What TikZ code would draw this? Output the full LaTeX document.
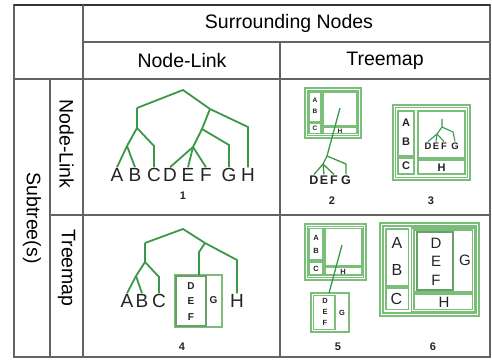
\documentclass[tikz,border=0pt]{standalone}
\usepackage{fontspec}
\setmainfont{Liberation Sans}
\usetikzlibrary{positioning}

\definecolor{branchgreen}{RGB}{58,152,72}
\definecolor{mapgreen}{RGB}{122,190,122}
\definecolor{rulegray}{RGB}{100,100,100}
\definecolor{inkgray}{RGB}{35,35,35}

\begin{document}
\begin{tikzpicture}[x=1pt,y=-1pt,
  rule/.style={draw=rulegray, line width=1.2pt},
  branch/.style={draw=branchgreen, line width=1.8pt},
  tmap/.style={draw=mapgreen, line width=1.2pt},
  tmapthick/.style={draw=mapgreen!85!black, line width=2pt},
  head/.style={inner sep=0pt, font=\fontsize{19.5}{22}\selectfont},
  leaf/.style={inner sep=1pt, text=inkgray, font=\fontsize{19}{21}\selectfont},
  cellbig/.style={inner sep=0pt, text=inkgray, font=\fontsize{15}{17}\selectfont},
  cellmid/.style={inner sep=1pt, text=inkgray, font=\bfseries\fontsize{9.5}{11}\selectfont},
  cellsmall/.style={inner sep=0pt, text=inkgray, font=\bfseries\fontsize{6.5}{8}\selectfont},
  tag/.style={inner sep=0pt, text=inkgray, font=\bfseries\fontsize{11}{13}\selectfont}]
\useasboundingbox (0,0) rectangle (492,363);

% table
\draw[rule] (14,5) rectangle (490,357);
\draw[rule, draw=black!80, line width=1.6pt] (14,5) -- (490,5);
\draw[rule] (83,5) -- (83,357);
\draw[rule] (83,42) -- (490,42);
\draw[rule] (14,79) -- (490,79);
\draw[rule] (50,79) -- (50,357);
\draw[rule] (280,42) -- (280,357);
\draw[rule] (50,215) -- (490,215);

\node[head] (surr) at (289,23.5) {Surrounding Nodes};
\node[head] (colnl) at (182,61) {Node-Link};
\node[head] (coltm) at (385,61) {Treemap};
\node[head, rotate=-90] (sub) at (32,218) {Subtree(s)};
\node[head, rotate=-90] (rownl) at (66.5,144) {Node-Link};
\node[head, rotate=-90] (rowtm) at (66.5,268) {Treemap};

% 1: node-link in node-link
\node[leaf] (A1) at (117,175) {A};
\node[leaf] (B1) at (135,175) {B};
\node[leaf] (C1) at (154,175) {C};
\node[leaf] (D1) at (170,175) {D};
\node[leaf] (E1) at (188,175) {E};
\node[leaf] (F1) at (206,175) {F};
\node[leaf] (G1) at (229,175) {G};
\node[leaf] (H1) at (248,175) {H};
\coordinate (r1) at (183,90);
\coordinate (l1) at (137,108);
\coordinate (lm1) at (137,128);
\coordinate (ab1) at (127,146);
\coordinate (c1) at (154,146);
\coordinate (rt1) at (210,109);
\coordinate (h1) at (248,127);
\coordinate (fg1) at (202,129);
\coordinate (g1) at (229,145);
\coordinate (def1) at (193,147);
\draw[branch] (l1) -- (r1) -- (rt1);
\draw[branch] (l1) -- (lm1) -- (ab1) -- (A1.north);
\draw[branch] (ab1) -- (B1.north);
\draw[branch] (lm1) -- (c1) -- (C1.north);
\draw[branch] (rt1) -- (h1) -- (H1.north);
\draw[branch] (rt1) -- (fg1) -- (def1) -- (D1.north);
\draw[branch] (def1) -- (E1.north);
\draw[branch] (def1) -- (F1.north);
\draw[branch] (fg1) -- (g1) -- (G1.north);
\node[tag] (n1) at (183,196) {1};

% 2: node-link subtree hung from a treemap
\draw[tmap] (305,88) rectangle (361,138);
\draw[tmap] (307.5,90.5) rectangle (358.5,135.5);
\draw[tmap] (309,92) rectangle (321,122);
\draw[tmap] (309,123.5) rectangle (321,133.5);
\draw[tmap] (323,92) rectangle (357,126);
\draw[tmap] (323,127.5) rectangle (357,133.5);
\node[cellsmall] (A2) at (315,100) {A};
\node[cellsmall] (B2) at (315,111) {B};
\node[cellsmall] (C2) at (315,128.5) {C};
\node[cellsmall] (H2) at (340,131) {H};
\node[cellmid, font=\bfseries\fontsize{12.5}{14}\selectfont] (D2) at (314,180) {D};
\node[cellmid, font=\bfseries\fontsize{12.5}{14}\selectfont] (E2) at (324,180) {E};
\node[cellmid, font=\bfseries\fontsize{12.5}{14}\selectfont] (F2) at (334,180) {F};
\node[cellmid, font=\bfseries\fontsize{12.5}{14}\selectfont] (G2) at (346,180) {G};
\coordinate (r2) at (340,108);
\coordinate (y2) at (327,156);
\coordinate (x2) at (323,164);
\coordinate (g2) at (346,164);
\draw[branch, line width=1.3pt] (r2) -- (y2) -- (x2) -- (D2.north);
\draw[branch, line width=1.3pt] (x2) -- (E2.north);
\draw[branch, line width=1.3pt] (x2) -- (F2.north);
\draw[branch, line width=1.3pt] (y2) -- (g2) -- (G2.north);
\node[tag] (n2) at (332,201) {2};

% 3: node-link subtree inside a treemap
\draw[tmap] (393,105) rectangle (470,180);
\draw[tmap] (395.5,107.5) rectangle (467.5,177.5);
\draw[tmap] (398,111) rectangle (414,156);
\draw[tmap] (398,158) rectangle (414,174);
\draw[tmap] (418,111) rectangle (465,158);
\draw[tmap] (418,160) rectangle (465,174);
\node[cellmid, font=\bfseries\fontsize{11}{13}\selectfont] (A3) at (406,123) {A};
\node[cellmid, font=\bfseries\fontsize{11}{13}\selectfont] (B3) at (406,142) {B};
\node[cellmid, font=\bfseries\fontsize{11}{13}\selectfont] (C3) at (406,166) {C};
\node[cellmid, font=\bfseries\fontsize{11}{13}\selectfont] (H3) at (441.5,167.5) {H};
\node[cellmid] (D3) at (428,146) {D};
\node[cellmid] (E3) at (436,146) {E};
\node[cellmid] (F3) at (444,146) {F};
\node[cellmid] (G3) at (455,146) {G};
\coordinate (r3) at (442,119);
\coordinate (y3) at (442,127);
\coordinate (x3) at (437,134);
\coordinate (g3) at (453,132);
\draw[branch, line width=1.1pt] (r3) -- (y3) -- (x3) -- (D3.north);
\draw[branch, line width=1.1pt] (x3) -- (E3.north);
\draw[branch, line width=1.1pt] (x3) -- (F3.north);
\draw[branch, line width=1.1pt] (y3) -- (g3) -- (G3.north);
\node[tag] (n3) at (431,201) {3};

% 4: treemap subtree inside a node-link tree
\node[leaf] (A4) at (127,301) {A};
\node[leaf] (B4) at (142,301) {B};
\node[leaf] (C4) at (159,301) {C};
\node[leaf] (H4) at (237,301) {H};
\draw[tmap] (175,275) rectangle (222,327);
\draw[tmapthick] (176,276) rectangle (206,326);
\node[cellmid, font=\bfseries\fontsize{10}{12}\selectfont] (D4) at (191,286) {D};
\node[cellmid, font=\bfseries\fontsize{10}{12}\selectfont] (E4) at (191,301) {E};
\node[cellmid, font=\bfseries\fontsize{10}{12}\selectfont] (F4) at (191,317) {F};
\node[cellmid, font=\bfseries\fontsize{10}{12}\selectfont] (G4) at (213.5,300) {G};
\coordinate (r4) at (183,229);
\coordinate (l4) at (145,243);
\coordinate (lm4) at (145,262);
\coordinate (ab4) at (136,276);
\coordinate (c4) at (159,277);
\coordinate (rt4) at (205,243);
\coordinate (h4) at (237,260);
\coordinate (d4) at (199,252);
\coordinate (box4) at (199,275);
\draw[branch] (l4) -- (r4) -- (rt4);
\draw[branch] (l4) -- (lm4) -- (ab4) -- (A4.north);
\draw[branch] (ab4) -- (B4.north);
\draw[branch] (lm4) -- (c4) -- (C4.north);
\draw[branch] (rt4) -- (h4) -- (H4.north);
\draw[branch] (rt4) -- (d4) -- (box4);
\node[tag] (n4) at (182,347) {4};

% 5: treemap subtree hung from a treemap
\draw[tmap] (305,224) rectangle (366,280);
\draw[tmap] (307.5,226.5) rectangle (363.5,277.5);
\draw[tmap] (309,228.5) rectangle (323,260);
\draw[tmap] (309,262) rectangle (323,275);
\draw[tmap] (325,228.5) rectangle (362,266);
\draw[tmap] (325,267.5) rectangle (362,275);
\node[cellsmall, font=\bfseries\fontsize{7.5}{9}\selectfont] (A5) at (316,238) {A};
\node[cellsmall, font=\bfseries\fontsize{7.5}{9}\selectfont] (B5) at (316,251) {B};
\node[cellsmall, font=\bfseries\fontsize{7.5}{9}\selectfont] (C5) at (316,269) {C};
\node[cellsmall, font=\bfseries\fontsize{7.5}{9}\selectfont] (H5) at (343,271.5) {H};
\draw[tmap] (311,293) rectangle (349,332);
\draw[tmap] (313.5,295.5) rectangle (335,329.5);
\node[cellsmall, font=\bfseries\fontsize{7.5}{9}\selectfont] (D5) at (325,301) {D};
\node[cellsmall, font=\bfseries\fontsize{7.5}{9}\selectfont] (E5) at (325,312) {E};
\node[cellsmall, font=\bfseries\fontsize{7.5}{9}\selectfont] (F5) at (325,323) {F};
\node[cellsmall, font=\bfseries\fontsize{7.5}{9}\selectfont] (G5) at (342,313) {G};
\coordinate (r5) at (342,245);
\coordinate (box5) at (329,293);
\draw[branch, line width=1.3pt] (r5) -- (box5);
\node[tag] (n5) at (338,347) {5};

% 6: treemap subtree inside a treemap
\draw[tmap, line width=1.6pt] (380,223) rectangle (479,316);
\draw[tmap] (383,226) rectangle (476,313);
\draw[tmap] (386,229) rectangle (408.5,286);
\draw[tmap] (386,288) rectangle (408.5,309.5);
\draw[tmap] (411.5,228) rectangle (474.5,311.5);
\draw[tmap] (414,230) rectangle (472.5,292);
\draw[tmapthick] (416.5,232) rectangle (453,290);
\draw[tmap] (414,294) rectangle (472.5,309.5);
\node[cellbig, font=\fontsize{16}{18}\selectfont] (A6) at (397,243) {A};
\node[cellbig, font=\fontsize{16}{18}\selectfont] (B6) at (397,270) {B};
\node[cellbig, font=\fontsize{16}{18}\selectfont] (C6) at (396.5,298.5) {C};
\node[cellbig] (D6) at (436,243) {D};
\node[cellbig] (E6) at (436,261) {E};
\node[cellbig] (F6) at (436,280) {F};
\node[cellbig] (G6) at (465,260) {G};
\node[cellbig] (H6) at (444,302.5) {H};
\node[tag] (n6) at (433,347) {6};
\end{tikzpicture}
\end{document}
